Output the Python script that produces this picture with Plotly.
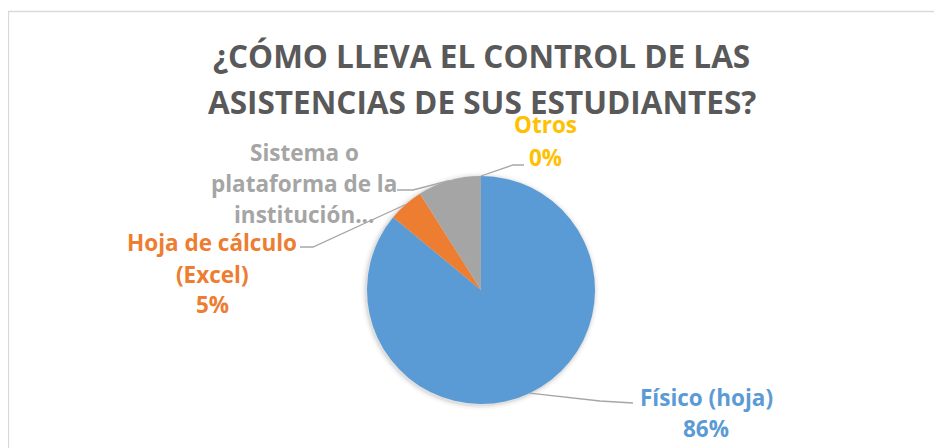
import math
import plotly.graph_objects as go

# ---- data ----
categories = ["Físico (hoja)", "Hoja de cálculo (Excel)",
              "Sistema o plataforma de la institución educativa", "Otros"]
values = [86, 5, 9, 0]
colors = ["#5B9BD5", "#ED7D31", "#A5A5A5", "#FFC000"]
title_lines = ["¿CÓMO LLEVA EL CONTROL DE LAS", "ASISTENCIAS DE SUS ESTUDIANTES?"]
label_lines = [
    ["Físico (hoja)"],
    ["Hoja de cálculo", "(Excel)"],
    ["Sistema o", "plataforma de la", "institución..."],
    ["Otros"],
]
show_pct = [True, True, False, True]

# ---- layout constants (window pixels; the page body has an 8px margin) ----
OFF = 8
W, H = 934, 440
CX, CY, R = 481, 290, 114
FONT = "Open Sans"

def px(x):
    return (x - OFF) / W

def py(y):
    return 1 - (y - OFF) / H

fig = go.Figure()
fig.add_trace(go.Pie(
    labels=categories, values=values, sort=False, direction="clockwise",
    rotation=0, marker=dict(colors=colors, line=dict(width=0)),
    textinfo="none", hoverinfo="label+percent", showlegend=False,
    domain=dict(x=[px(CX - R), px(CX + R)], y=[py(CY + R), py(CY - R)]),
))

shapes = []
# chart border
shapes.append(dict(type="rect", xref="paper", yref="paper",
                   x0=px(8.5), x1=1.02, y0=-0.02, y1=py(11.5),
                   line=dict(color="#D9D9D9", width=1.3), fillcolor="rgba(0,0,0,0)"))
# soft shadow behind pie
for dr, a in [(5, 0.025), (3, 0.04), (1.5, 0.06)]:
    shapes.append(dict(type="circle", xref="paper", yref="paper", layer="below",
                       x0=px(CX - R - dr - 1), x1=px(CX + R + dr - 1),
                       y0=py(CY + R + dr + 1), y1=py(CY - R - dr + 1),
                       line=dict(width=0), fillcolor=f"rgba(0,0,0,{a})"))

# label placement: (center x, [line center ys], elbow, end)
placement = [
    (706, [397, 428], (600, 401), (633, 403)),
    (212, [242, 274, 304], (313, 247), (300, 247)),
    (304, [152, 183, 214], (413, 190), (397, 190)),
    (545, [125, 157], (513, 165), (524, 165)),
]

total = sum(values)
cum = 0
annotations = []
for i, v in enumerate(values):
    theta = 2 * math.pi * (cum + v / 2) / total
    cum += v
    sx = CX + R * math.sin(theta)
    sy = CY - R * math.cos(theta)
    cxl, ys, (ex, ey), (fx, fy) = placement[i]
    shapes.append(dict(type="path", xref="paper", yref="paper",
                       path=f"M {px(sx)} {py(sy)} L {px(ex)} {py(ey)} L {px(fx)} {py(fy)}",
                       line=dict(color="#A6A6A6", width=1.3)))
    lines = list(label_lines[i])
    if show_pct[i]:
        lines.append(f"{round(100 * v / total)}%")
    for t, yy in zip(lines, ys):
        annotations.append(dict(text=f"<b>{t}</b>", x=px(cxl), y=py(yy),
                                xref="paper", yref="paper", showarrow=False,
                                xanchor="center", yanchor="middle",
                                font=dict(family=FONT, size=22.5, color=colors[i])))

for t, yy in zip(title_lines, [55, 101]):
    annotations.append(dict(text=f"<b>{t}</b>", x=px(482), y=py(yy),
                            xref="paper", yref="paper", showarrow=False,
                            xanchor="center", yanchor="middle",
                            font=dict(family=FONT, size=31.5, color="#595959")))

fig.update_layout(width=W, height=H, margin=dict(l=0, r=0, t=0, b=0),
                  paper_bgcolor="white", plot_bgcolor="white",
                  shapes=shapes, annotations=annotations)
fig.write_html("out.html")
